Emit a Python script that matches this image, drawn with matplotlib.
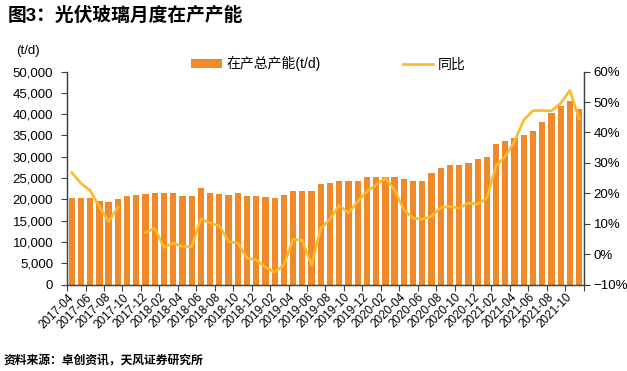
import numpy as np
import pandas as pd
import matplotlib
matplotlib.use('Agg')
import matplotlib.pyplot as plt
from matplotlib.ticker import FuncFormatter

plt.rcParams['font.family'] = ['Liberation Sans', 'Noto Sans CJK SC']

# monthly categories 2017-04 .. 2021-11
months = [p.strftime('%Y-%m') for p in pd.period_range('2017-04', '2021-11', freq='M')]

# in-production capacity (t/d)
capacity = [20300, 20300, 20300, 19600, 19300, 20100, 20700, 21000, 21300, 21550,
            21550, 21400, 20850, 20850, 22700, 21550, 21250, 20950, 21550, 20700,
            20850, 20550, 20250, 21000, 21900, 21850, 21850, 23500, 23750, 24200,
            24350, 24350, 25300, 25300, 25300, 25300, 24900, 24350, 24350, 26250,
            27400, 28050, 28050, 28600, 29450, 30000, 32900, 33650, 34500, 35200,
            36000, 38050, 40300, 41900, 43100, 41300]

# year-on-year change (%)
yoy = [26.8, 23.3, 20.9, 15.6, 10.7, 15.4, np.nan, np.nan, 7.1, 8.5,
       2.2, 3.6, 2.5, 2.5, 11.6, 10.2, 9.3, 4.1, 3.6, -1.3,
       -1.9, -4.3, -5.9, -3.5, 4.9, 4.5, -3.5, 8.5, 11.5, 16.0,
       13.5, 17.3, 20.6, 22.8, 25.0, 21.1, 14.6, 11.8, 11.5, 12.4,
       15.3, 15.7, 15.1, 16.8, 16.5, 18.4, 29.0, 32.1, 37.0, 44.1,
       47.2, 47.2, 47.1, 49.6, 53.8, 44.4]

bar_color = '#F0892A'
line_color = '#FBB92B'
axis_color = '#404040'

fig = plt.figure(figsize=(6.27, 3.71), dpi=100)
ax = fig.add_axes([0.107, 0.233, 0.824, 0.574])
ax2 = ax.twinx()

x = np.arange(len(months))
bars = ax.bar(x, capacity, width=0.68, color=bar_color, label='在产总产能(t/d)', zorder=2)
line, = ax2.plot(x, yoy, color=line_color, lw=1.9, label='同比', zorder=3)

ax.set_xlim(-0.5, len(months) - 0.5)
ax.set_ylim(0, 50000)
ax.set_yticks(np.arange(0, 50001, 5000))
ax.yaxis.set_major_formatter(FuncFormatter(lambda v, p: f'{int(v):,}'))
ax2.set_ylim(-10, 60)
ax2.set_yticks(np.arange(-10, 61, 10))
ax2.yaxis.set_major_formatter(FuncFormatter(lambda v, p: f'{int(v)}%'.replace('-', '\u2212')))

# category axis: ticks between categories, label every second month
ax.set_xticks(np.arange(-0.5, len(months), 2))
ax.set_xticklabels([])
ax.set_xticks(x[::2], minor=True)
ax.set_xticklabels(months[::2], minor=True, rotation=45, ha='right',
                   va='center', rotation_mode='anchor', fontsize=8.5)
ax.tick_params(axis='x', which='minor', length=0, pad=8)
ax.tick_params(axis='x', which='major', length=4, color=axis_color, direction='out')

ax.tick_params(axis='y', labelsize=9.5, length=4, color=axis_color, pad=6)
ax2.tick_params(axis='y', labelsize=9.5, length=4, color=axis_color, pad=3)

for a in (ax, ax2):
    a.spines['top'].set_visible(False)
    for s in ('left', 'right', 'bottom'):
        a.spines[s].set_color(axis_color)
        a.spines[s].set_linewidth(0.9)

fig.text(0.013, 0.958, '图3：光伏玻璃月度在产产能', fontsize=13.5, fontweight='bold',
         va='center', ha='left')
fig.text(0.025, 0.862, '(t/d)', fontsize=9.5, va='center', ha='left')
fig.text(0.006, 0.025, '资料来源：卓创资讯，天风证券研究所', fontsize=8.5, fontweight='bold',
         va='center', ha='left')

fig.legend(handles=[bars, line], loc='center', bbox_to_anchor=(0.524, 0.828), ncol=2,
           frameon=False, fontsize=10, handlelength=2.2, handleheight=0.6,
           columnspacing=5.9, handletextpad=0.35)

fig.savefig('out.png', dpi=100, facecolor='white')
